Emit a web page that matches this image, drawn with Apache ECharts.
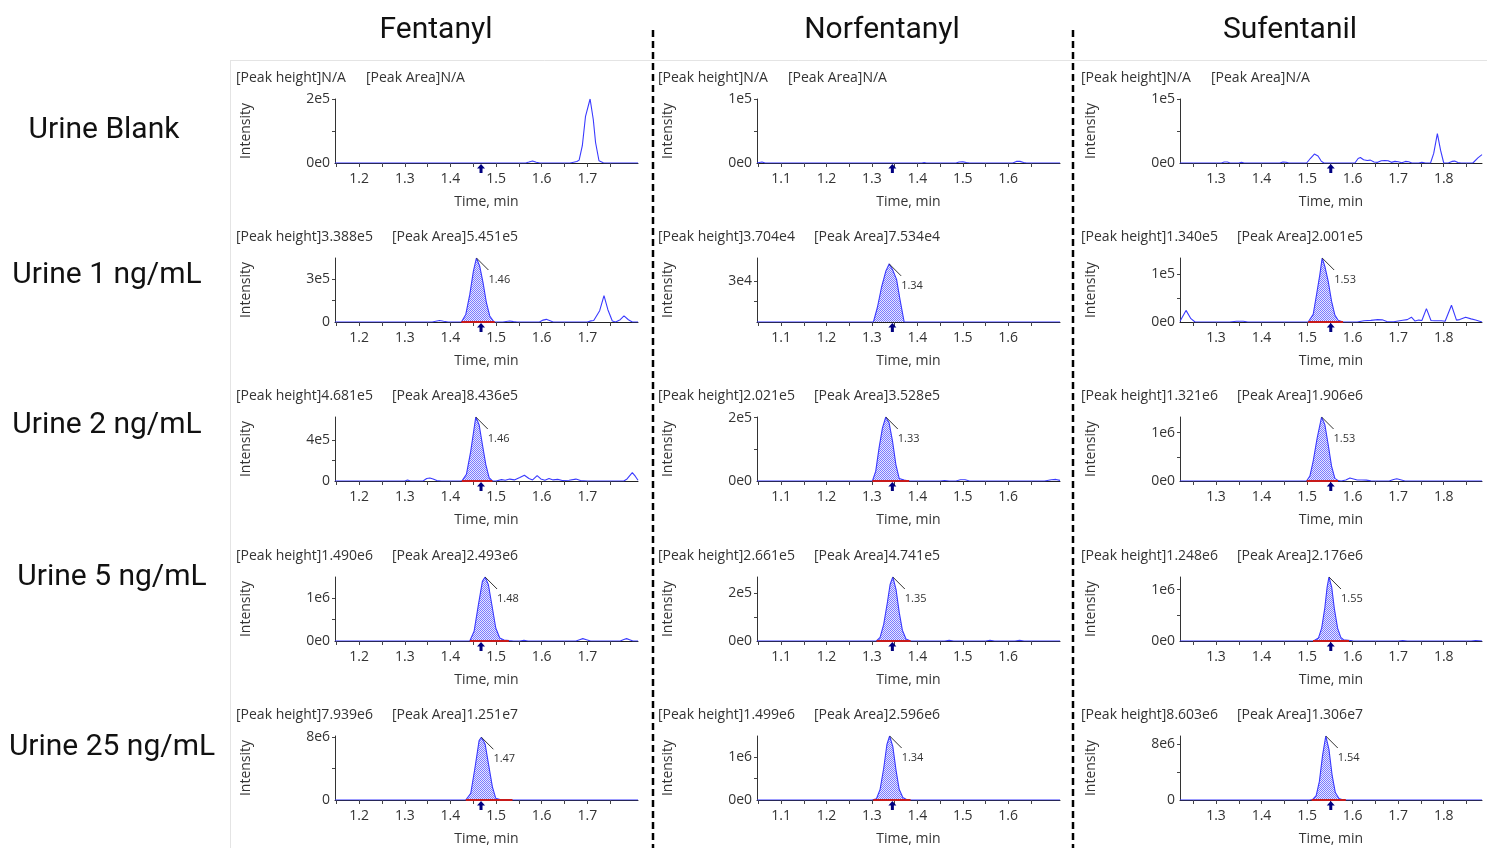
<!DOCTYPE html>
<html><head><meta charset="utf-8">
<script src="https://cdn.jsdelivr.net/npm/echarts@6/dist/echarts.min.js"></script>
<style>html,body{margin:0;padding:0;background:#fff}#c{width:1487px;height:848px}</style>
</head><body><div id="c"></div><script>
const compounds = ['Fentanyl','Norfentanyl','Sufentanil'];
const samples = ['Urine Blank','Urine 1 ng/mL','Urine 2 ng/mL','Urine 5 ng/mL','Urine 25 ng/mL'];

const timeMin = [1.147, 1.047, 1.221];
const timeMax = [1.811, 1.714, 1.884];
const timeTicks = [[1.2,1.3,1.4,1.5,1.6,1.7],[1.1,1.2,1.3,1.4,1.5,1.6],[1.3,1.4,1.5,1.6,1.7,1.8]];
const expectedRT = [1.467, 1.345, 1.552];

const peakHeightText = [['N/A','N/A','N/A'],['3.388e5','3.704e4','1.340e5'],['4.681e5','2.021e5','1.321e6'],['1.490e6','2.661e5','1.248e6'],['7.939e6','1.499e6','8.603e6']];
const peakAreaText = [['N/A','N/A','N/A'],['5.451e5','7.534e4','2.001e5'],['8.436e5','3.528e5','1.906e6'],['2.493e6','4.741e5','2.176e6'],['1.251e7','2.596e6','1.306e7']];
const apexLabel = [[null,null,null],['1.46','1.34','1.53'],['1.46','1.33','1.53'],['1.48','1.35','1.55'],['1.47','1.34','1.54']];
const integStart = [[null,null,null],[1.424,1.303,1.5024],[1.4249,1.301,1.4989],[1.4424,1.31,1.513],[1.4336,1.303,1.51]];
const integEnd   = [[null,null,null],[1.497,1.371,1.579],[1.492,1.382,1.568],[1.528,1.385,1.592],[1.536,1.385,1.585]];
const showIntegLine = [[false,false,false],[true,false,true],[true,true,true],[true,true,true],[true,true,true]];

const yMax = [[2e5,1e5,1e5],[3.388e5,4.08e4,1.34e5],[4.681e5,2.021e5,1.321e6],[1.49e6,2.661e5,1.248e6],[8.1e6,1.499e6,8.603e6]];
const yTickValue = [[2e5,1e5,1e5],[2.25e5,2.6e4,1e5],[3.0e5,2e5,1e6],[1e6,2e5,1e6],[8e6,1e6,7.5e6]];
const yTickLabel = [['2e5','1e5','1e5'],['3e5','3e4','1e5'],['4e5','2e5','1e6'],['1e6','2e5','1e6'],['8e6','1e6','8e6']];
const yZeroLabel = [['0e0','0e0','0e0'],['0','','0e0'],['0','0e0','0e0'],['0e0','0e0','0e0'],['0','0e0','0']];

// chromatogram traces [time (min), intensity]
const fentanylBlank = [[1.147,0],[1.30,0],[1.45,0],[1.565,0],[1.572,3000],[1.58,6500],[1.588,2500],[1.596,0],[1.662,0],[1.67,2500],[1.677,4500],[1.682,9000],[1.689,54000],[1.696,146000],[1.706,200000],[1.713,136000],[1.718,64000],[1.7255,7000],[1.735,1000],[1.745,0],[1.811,0]];
const fentanyl1 = [[1.147,0],[1.36,0],[1.368,4000],[1.376,8000],[1.385,4000],[1.395,0],[1.424,0],[1.4336,40000],[1.4424,146000],[1.4503,269000],[1.4569,338800],[1.4642,295000],[1.4715,207000],[1.4788,102000],[1.4861,32000],[1.4956,0],[1.515,0],[1.522,3000],[1.53,5000],[1.538,2000],[1.546,0],[1.595,0],[1.603,10000],[1.61,14000],[1.617,8000],[1.625,0],[1.70,0],[1.708,6000],[1.714,8000],[1.7183,6000],[1.727,60000],[1.7365,140000],[1.745,65000],[1.7547,5000],[1.762,0],[1.772,12000],[1.7803,32000],[1.79,12000],[1.7985,0],[1.811,0]];
const fentanyl2 = [[1.147,0],[1.30,0],[1.306,8000],[1.312,0],[1.34,0],[1.348,18000],[1.355,22000],[1.362,15000],[1.37,3000],[1.38,0],[1.4249,0],[1.435,48500],[1.4445,218000],[1.4555,468100],[1.4628,412000],[1.47,267000],[1.4774,121000],[1.4847,24000],[1.4919,0],[1.50,0],[1.512,10000],[1.52,6000],[1.53,14000],[1.54,8000],[1.552,25000],[1.562,42000],[1.572,18000],[1.58,8000],[1.59,40000],[1.598,15000],[1.607,5000],[1.616,18000],[1.625,8000],[1.635,12000],[1.645,4000],[1.66,6000],[1.675,14000],[1.685,3000],[1.70,0],[1.78,0],[1.787,15000],[1.7985,61000],[1.805,35000],[1.811,5000]];
const fentanyl5 = [[1.147,0],[1.4424,0],[1.4518,225000],[1.4613,846000],[1.47,1389000],[1.4759,1490000],[1.4832,1310000],[1.4919,768000],[1.4993,303000],[1.508,70000],[1.5175,23000],[1.5284,8000],[1.538,0],[1.552,0],[1.561,15000],[1.57,0],[1.675,0],[1.683,30000],[1.69,55000],[1.698,30000],[1.707,0],[1.772,0],[1.78,35000],[1.786,55000],[1.794,25000],[1.80,0],[1.811,0]];
const fentanyl25 = [[1.147,0],[1.4336,0],[1.4445,836000],[1.454,4180000],[1.4628,7520000],[1.4678,7939000],[1.4759,7100000],[1.4832,4600000],[1.4919,1670000],[1.4993,210000],[1.5102,40000],[1.52,0],[1.811,0]];

const norfentanylBlank = [[1.047,0],[1.05,1500],[1.058,1500],[1.065,0],[1.41,0],[1.415,800],[1.42,0],[1.485,0],[1.492,1500],[1.50,1800],[1.508,800],[1.515,0],[1.61,0],[1.618,2500],[1.626,2500],[1.634,800],[1.64,0],[1.714,0]];
const norfentanyl1 = [[1.047,0],[1.3033,0],[1.3121,9400],[1.321,22000],[1.3305,32300],[1.3379,37040],[1.3453,33500],[1.3542,27200],[1.3622,13600],[1.371,0],[1.714,0]];
const norfentanyl2 = [[1.047,0],[1.3011,0],[1.3084,31400],[1.3157,104700],[1.3232,167500],[1.3305,202100],[1.3379,183000],[1.3453,126000],[1.3527,52000],[1.36,8000],[1.371,3000],[1.3821,0],[1.45,0],[1.46,1500],[1.47,0],[1.485,0],[1.495,4000],[1.505,4000],[1.515,0],[1.68,0],[1.695,4000],[1.705,5000],[1.714,2000]];
const norfentanyl5 = [[1.047,0],[1.31,0],[1.318,15000],[1.326,70000],[1.334,160000],[1.34,235000],[1.346,266100],[1.353,215000],[1.36,120000],[1.367,45000],[1.375,8000],[1.385,0],[1.46,0],[1.47,2500],[1.48,0],[1.55,0],[1.56,3000],[1.57,0],[1.615,0],[1.625,2500],[1.635,0],[1.714,0]];
const norfentanyl25 = [[1.047,0],[1.30,0],[1.31,30000],[1.318,250000],[1.326,750000],[1.333,1300000],[1.339,1499000],[1.346,1250000],[1.353,700000],[1.36,250000],[1.368,60000],[1.376,10000],[1.385,0],[1.714,0]];

const sufentanilBlank = [[1.221,0],[1.312,0],[1.318,1500],[1.325,1500],[1.331,0],[1.35,0],[1.356,1000],[1.362,0],[1.44,0],[1.447,1500],[1.454,1200],[1.46,0],[1.499,0],[1.507,7000],[1.516,14000],[1.524,11000],[1.531,3000],[1.537,0],[1.605,0],[1.612,7000],[1.617,8500],[1.624,5000],[1.632,4000],[1.639,4500],[1.647,1500],[1.655,1000],[1.663,3500],[1.671,4000],[1.678,3500],[1.685,1000],[1.693,2500],[1.70,2000],[1.708,500],[1.716,2500],[1.723,2000],[1.73,0],[1.745,0],[1.752,1000],[1.76,0],[1.771,0],[1.778,15000],[1.786,46000],[1.793,20000],[1.80,0],[1.81,0],[1.818,2500],[1.824,3000],[1.831,800],[1.838,0],[1.864,0],[1.875,8000],[1.884,13000]];
const sufentanil1 = [[1.221,1500],[1.2232,3000],[1.2342,24300],[1.245,7000],[1.254,0],[1.33,0],[1.345,1500],[1.36,1500],[1.37,0],[1.5024,0],[1.5061,2000],[1.5134,16000],[1.5208,57600],[1.528,99300],[1.5331,134000],[1.539,116600],[1.5463,85400],[1.5537,43700],[1.561,14600],[1.5682,3500],[1.5792,0],[1.61,0],[1.625,2500],[1.64,3500],[1.655,5000],[1.665,4500],[1.675,1000],[1.69,500],[1.71,3500],[1.72,5000],[1.729,10000],[1.737,2000],[1.745,4000],[1.752,3000],[1.762,28000],[1.772,3000],[1.78,2500],[1.795,2500],[1.803,1500],[1.817,35000],[1.828,4000],[1.835,5000],[1.848,10000],[1.86,6500],[1.87,4000],[1.884,0]];
const sufentanil2 = [[1.221,0],[1.4989,0],[1.5061,103000],[1.5134,411000],[1.5222,890000],[1.5318,1321000],[1.539,1164000],[1.5463,753000],[1.5537,308000],[1.561,55000],[1.5682,7000],[1.575,0],[1.585,20000],[1.594,60000],[1.602,40000],[1.61,20000],[1.62,22000],[1.63,18000],[1.64,3000],[1.65,0],[1.68,0],[1.69,30000],[1.697,45000],[1.705,25000],[1.715,0],[1.884,0]];
const sufentanil5 = [[1.221,0],[1.50,0],[1.515,5000],[1.525,60000],[1.532,250000],[1.539,650000],[1.544,1050000],[1.548,1248000],[1.554,1050000],[1.56,620000],[1.567,250000],[1.574,70000],[1.58,25000],[1.59,15000],[1.60,5000],[1.61,0],[1.70,0],[1.71,8000],[1.72,0],[1.86,0],[1.87,8000],[1.878,4000],[1.884,0]];
const sufentanil25 = [[1.221,0],[1.505,0],[1.512,50000],[1.52,600000],[1.527,2500000],[1.534,6000000],[1.541,8603000],[1.548,6800000],[1.555,3300000],[1.562,1000000],[1.57,200000],[1.578,40000],[1.588,0],[1.884,0]];

const traces = [
  [fentanylBlank, norfentanylBlank, sufentanilBlank],
  [fentanyl1, norfentanyl1, sufentanil1],
  [fentanyl2, norfentanyl2, sufentanil2],
  [fentanyl5, norfentanyl5, sufentanil5],
  [fentanyl25, norfentanyl25, sufentanil25]
];

// ---- layout ----
const colLeft = [335, 757, 1180];
const colWidth = [303, 303, 302];
const rowBase = [163, 322, 481, 641, 800];
const plotH = 64;
const uiFont = '"Open Sans", "Noto Sans", sans-serif';
const titleFont = 'Roboto, "DejaVu Sans", sans-serif';
const txt = '#333333';

const pat = document.createElement('canvas');
pat.width = 2; pat.height = 2;
(function(){
  const g = pat.getContext('2d');
  g.fillStyle = '#e6e6ff'; g.fillRect(0,0,2,2);
  g.fillStyle = '#7c7cff'; g.fillRect(0,0,1,1); g.fillRect(1,1,1,1);
})();

const grids = [], xAxes = [], yAxes = [], series = [], graphics = [];

for (let r = 0; r < 5; r++) {
  for (let c = 0; c < 3; c++) {
    const idx = r * 3 + c;
    const data = traces[r][c];
    grids.push({left: colLeft[c], top: rowBase[r] - plotH, width: colWidth[c], height: plotH});
    const tickSet = [];
    timeTicks[c].forEach(t => {
      [t - 0.05, t, t + 0.05].forEach(v => {
        const vv = Math.round(v * 1000) / 1000;
        if (vv > timeMin[c] && vv < timeMax[c] && tickSet.indexOf(vv) < 0) tickSet.push(vv);
      });
    });
    tickSet.sort((a, b) => a - b);
    xAxes.push({
      type: 'value', gridIndex: idx, min: timeMin[c], max: timeMax[c],
      axisLine: {show: true, onZero: false, lineStyle: {color: '#222', width: 1}},
      axisTick: {show: true, length: 4, customValues: tickSet, lineStyle: {color: '#444'}},
      axisLabel: {customValues: timeTicks[c], formatter: v => Number(v).toFixed(1), color: txt, fontSize: 14, fontFamily: uiFont, margin: 9},
      splitLine: {show: false},
      name: 'Time, min', nameLocation: 'middle', nameGap: 32,
      nameTextStyle: {color: txt, fontSize: 14, fontFamily: uiFont}
    });
    const tv = yTickValue[r][c];
    const yTicks = [tv / 2, tv].filter(v => v <= yMax[r][c] * 1.0001);
    yAxes.push({
      type: 'value', gridIndex: idx, min: 0, max: yMax[r][c],
      axisLine: {show: true, lineStyle: {color: '#333', width: 1}},
      axisTick: {show: true, length: 3, customValues: yTicks, lineStyle: {color: '#444'}},
      axisLabel: {customValues: [0, tv], formatter: v => (v === 0 ? yZeroLabel[r][c] : yTickLabel[r][c]), color: txt, fontSize: 14, fontFamily: uiFont, margin: 5, padding: [4, 0, 0, 0]},
      splitLine: {show: false},
      name: 'Intensity', nameLocation: 'middle', nameRotate: 90, nameGap: 82,
      nameTextStyle: {color: txt, fontSize: 14, fontFamily: uiFont}
    });

    const s = integStart[r][c], e = integEnd[r][c];
    if (s !== null) {
      series.push({
        type: 'line', xAxisIndex: idx, yAxisIndex: idx, symbol: 'none', z: 2, silent: true,
        data: data.filter(p => p[0] >= s - 1e-9 && p[0] <= e + 1e-9),
        lineStyle: {width: 0}, areaStyle: {color: {image: pat, repeat: 'repeat'}, opacity: 1}
      });
    }
    series.push({
      type: 'line', xAxisIndex: idx, yAxisIndex: idx, symbol: 'none', z: 3, silent: true,
      data: data, lineStyle: {color: '#3a3aff', width: 1.1}
    });
    if (s !== null && showIntegLine[r][c]) {
      series.push({
        type: 'line', xAxisIndex: idx, yAxisIndex: idx, symbol: 'none', z: 4, silent: true,
        data: [[s, 0], [e, 0]], lineStyle: {color: '#c81a1a', width: 2}
      });
    }
    if (s !== null) {
      let apex = data[0];
      data.forEach(p => { if (p[0] >= s && p[0] <= e && p[1] > apex[1]) apex = p; });
      const lab = apexLabel[r][c];
      series.push({
        type: 'custom', xAxisIndex: idx, yAxisIndex: idx, z: 6, silent: true, clip: false,
        data: [apex], encode: {x: 0, y: 1},
        renderItem: (params, api) => {
          const p = api.coord([api.value(0), api.value(1)]);
          return {type: 'group', children: [
            {type: 'line', shape: {x1: p[0], y1: p[1], x2: p[0] + 12, y2: p[1] + 12}, style: {stroke: '#333', lineWidth: 1}},
            {type: 'text', x: p[0] + 12, y: p[1] + 22, style: {text: lab, fill: '#333', font: '11px ' + uiFont, align: 'left', verticalAlign: 'middle'}}
          ]};
        }
      });
    }
    series.push({
      type: 'custom', xAxisIndex: idx, yAxisIndex: idx, z: 7, silent: true, clip: false,
      data: [[expectedRT[c], 0]], encode: {x: 0, y: 1},
      renderItem: (params, api) => {
        const p = api.coord([api.value(0), api.value(1)]);
        const x = p[0], y = p[1];
        return {type: 'polygon', shape: {points: [[x, y + 1], [x - 4, y + 5.5], [x - 1.5, y + 5.5], [x - 1.5, y + 10], [x + 1.5, y + 10], [x + 1.5, y + 5.5], [x + 4, y + 5.5]]}, style: {fill: '#000080'}};
      }
    });

    const tx = colLeft[c] - 99, ty = rowBase[r] - 86;
    const na = peakHeightText[r][c] === 'N/A';
    graphics.push({type: 'text', left: tx, top: ty - 6, style: {text: '[Peak height]' + peakHeightText[r][c], fill: txt, font: '14px ' + uiFont}});
    graphics.push({type: 'text', left: tx + (na ? 130 : 156), top: ty - 6, style: {text: '[Peak Area]' + peakAreaText[r][c], fill: txt, font: '14px ' + uiFont}});
  }
}

// titles and row labels
const titleX = [436, 882, 1290];
compounds.forEach((n, c) => graphics.push({type: 'text', x: titleX[c], y: 30, style: {text: n, fill: '#111', font: '30px ' + titleFont, align: 'center', verticalAlign: 'middle'}}));
const rowLabelX = [104, 107, 107, 112, 112];
const rowLabelY = [130, 275, 425, 577, 747];
samples.forEach((n, r) => graphics.push({type: 'text', x: rowLabelX[r], y: rowLabelY[r], style: {text: n, fill: '#111', font: '30px ' + titleFont, align: 'center', verticalAlign: 'middle'}}));

// panel frame lines and dashed separators
graphics.push({type: 'line', shape: {x1: 230, y1: 60.5, x2: 1487, y2: 60.5}, style: {stroke: '#e4e4e4', lineWidth: 1}});
graphics.push({type: 'line', shape: {x1: 230.5, y1: 60, x2: 230.5, y2: 848}, style: {stroke: '#e4e4e4', lineWidth: 1}});
[653, 1073].forEach(x => graphics.push({type: 'line', shape: {x1: x, y1: 30, x2: x, y2: 848}, style: {stroke: '#000', lineWidth: 2.5, lineDash: [7, 4]}}));

const chart = echarts.init(document.getElementById('c'), null, {renderer: 'canvas'});
chart.setOption({
  animation: false,
  backgroundColor: '#ffffff',
  textStyle: {fontFamily: uiFont},
  grid: grids, xAxis: xAxes, yAxis: yAxes, series: series,
  graphic: graphics
});
</script></body></html>
